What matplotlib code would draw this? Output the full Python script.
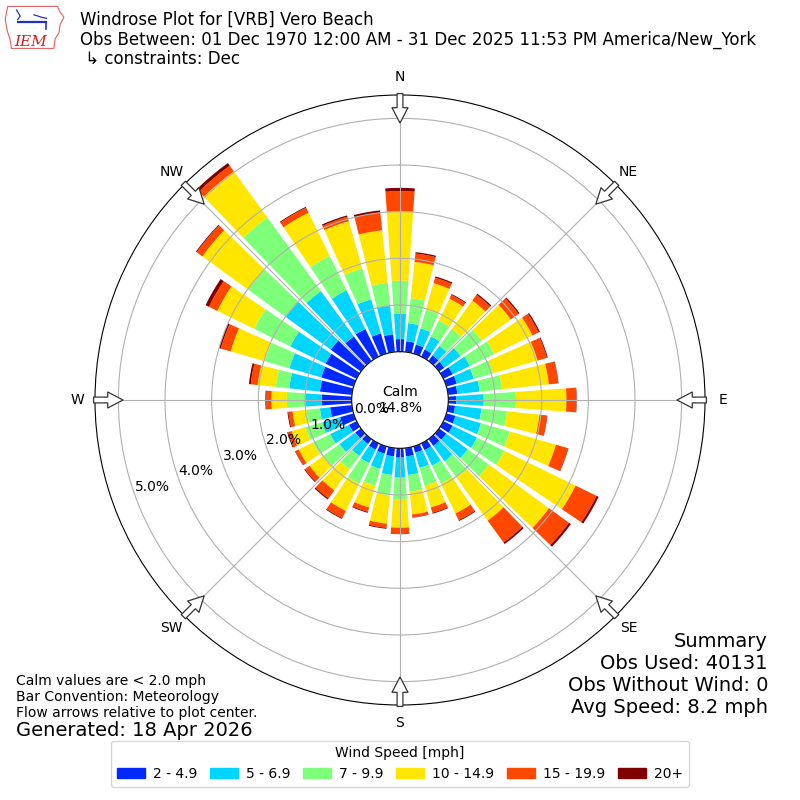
import numpy as np
import matplotlib
matplotlib.use("Agg")
import matplotlib.pyplot as plt
from matplotlib.patches import Rectangle, Polygon

# wind direction (deg) and percent frequency per speed class
directions = np.arange(0, 360, 10)
speed_labels = ["2 - 4.9", "5 - 6.9", "7 - 9.9", "10 - 14.9", "15 - 19.9", "20+"]

spd_2_5 = [0.27, 0.23, 0.20, 0.17, 0.15, 0.14, 0.22, 0.23, 0.20, 0.17, 0.15, 0.20,
           0.22, 0.19, 0.18, 0.16, 0.14, 0.18, 0.20, 0.18, 0.16, 0.15, 0.13, 0.15,
           0.18, 0.30, 0.47, 0.64, 0.69, 0.72, 0.74, 0.80, 0.65, 0.66, 0.45, 0.38]
spd_5_7 = [0.54, 0.39, 0.36, 0.31, 0.25, 0.43, 0.41, 0.38, 0.48, 0.59, 0.57, 0.57,
           0.58, 0.57, 0.41, 0.37, 0.34, 0.40, 0.43, 0.40, 0.34, 0.32, 0.32, 0.42,
           0.45, 0.40, 0.22, 0.36, 0.66, 0.71, 0.84, 1.19, 1.20, 0.92, 0.76, 0.62]
spd_7_10 = [0.71, 0.54, 0.42, 0.38, 0.45, 0.56, 0.58, 0.43, 0.48, 0.69, 0.55, 0.64,
            0.65, 0.56, 0.43, 0.43, 0.40, 0.36, 0.46, 0.44, 0.38, 0.49, 0.35, 0.42,
            0.41, 0.37, 0.29, 0.39, 0.29, 0.55, 0.86, 1.00, 1.95, 0.82, 0.69, 0.49]
spd_10_15 = [1.49, 0.78, 0.59, 0.52, 0.75, 0.77, 0.91, 0.99, 1.01, 1.08, 0.70, 1.03,
             1.70, 1.59, 1.14, 0.71, 0.48, 0.49, 0.61, 0.61, 0.48, 0.65, 0.56, 0.37,
             0.34, 0.31, 0.30, 0.33, 0.39, 0.76, 0.88, 1.21, 1.22, 1.03, 1.05, 1.13]
spd_15_20 = [0.43, 0.18, 0.12, 0.09, 0.15, 0.20, 0.15, 0.21, 0.20, 0.21, 0.16, 0.27,
             0.50, 0.53, 0.58, 0.16, 0.12, 0.06, 0.13, 0.09, 0.10, 0.17, 0.21, 0.12,
             0.08, 0.08, 0.09, 0.11, 0.15, 0.22, 0.20, 0.15, 0.15, 0.12, 0.10, 0.38]
spd_20p = [0.07, 0.03, 0.03, 0.02, 0.03, 0.03, 0.03, 0.02, 0.01, 0.01, 0.01, 0.01,
           0.05, 0.05, 0.04, 0.02, 0.02, 0.01, 0.01, 0.02, 0.02, 0.02, 0.03, 0.02,
           0.01, 0.02, 0.02, 0.02, 0.04, 0.04, 0.08, 0.02, 0.07, 0.02, 0.03, 0.05]
series = [spd_2_5, spd_5_7, spd_7_10, spd_10_15, spd_15_20, spd_20p]

calm_pct = 14.8
rticks = [0, 1, 2, 3, 4, 5]
compass = ["N", "NE", "E", "SE", "S", "SW", "W", "NW"]

fig = plt.figure(figsize=(8, 8), dpi=100)
ax = fig.add_axes([0.11875, 0.11875, 0.7625, 0.7625], projection="polar")
ax.set_theta_zero_location("N")
ax.set_theta_direction(-1)

colors = plt.get_cmap("jet")(np.linspace(0, 1, 7)[1:])
theta = np.deg2rad(directions)
base = np.zeros(len(directions))
for vals, c in zip(series, colors):
    ax.bar(theta, vals, width=np.deg2rad(10) * 0.8, bottom=base,
           color=c, edgecolor="none")
    base = base + np.array(vals)

ax.set_rorigin(-1.035)
ax.set_rlim(0, 5.5)
ax.set_rticks(rticks)
ax.set_yticklabels([f"{t:.1f}%" for t in rticks], fontsize=10)
ax.set_rlabel_position(250.5)
ax.set_thetagrids(np.arange(0, 360, 45), labels=compass, fontsize=10)
ax.tick_params(axis="x", pad=2.5)
ax.grid(color="#b0b0b0", lw=0.8)

# flow arrows at the edge
for d in np.arange(0, 360, 45):
    ax.annotate("", xy=(np.deg2rad(d), 4.9), xytext=(np.deg2rad(d), 5.53),
                arrowprops=dict(arrowstyle="simple,head_length=1.1,head_width=1.15,tail_width=0.42",
                                fc="white", ec="#333333", lw=0.9, mutation_scale=10,
                                shrinkA=0, shrinkB=0),
                annotation_clip=False, zorder=5)

ax.text(0.5, 0.5, f"Calm\n{calm_pct}%", transform=ax.transAxes,
        ha="center", va="center", fontsize=10, zorder=6)

fig.text(0.1, 0.986, "Windrose Plot for [VRB] Vero Beach\n"
         "Obs Between: 01 Dec 1970 12:00 AM - 31 Dec 2025 11:53 PM America/New_York\n"
         " \u21b3 constraints: Dec", va="top", fontsize=12, linespacing=1.1)

fig.text(0.96, 0.21, "Summary\nObs Used: 40131\nObs Without Wind: 0\nAvg Speed: 8.2 mph",
         ha="right", va="top", fontsize=14, linespacing=1.2)

fig.text(0.02, 0.1575, "Calm values are < 2.0 mph\nBar Convention: Meteorology\n"
         "Flow arrows relative to plot center.", va="top", fontsize=10)
fig.text(0.02, 0.0875, "Generated: 18 Apr 2026", va="center", fontsize=14)

handles = [Rectangle((0, 0), 1, 1, color=c) for c in colors]
fig.legend(handles, speed_labels, loc="lower center", bbox_to_anchor=(0.5, 0.008),
           ncol=6, title="Wind Speed [mph]", fontsize=10, title_fontsize=10,
           columnspacing=0.9, handletextpad=0.6)

# IEM logo (rough)
lax = fig.add_axes([0.005, 0.935, 0.078, 0.06])
lax.set_xlim(0, 10)
lax.set_ylim(0, 8)
lax.axis("off")
lax.add_patch(Polygon([(0.6, 7.6), (8.6, 7.6), (8.9, 6.8), (9.6, 5.8), (9.0, 4.6),
                       (8.8, 3.2), (8.2, 2.2), (8.0, 0.6), (1.2, 0.6), (1.0, 2.0),
                       (0.5, 3.6), (0.2, 5.4), (0.4, 6.6)],
                      closed=True, fill=False, ec="#e06060", lw=0.8))
lax.plot([2.2, 6.8], [5.0, 5.0], color="#2030c0", lw=1.6)
lax.plot([6.8, 6.8], [5.0, 3.8], color="#2030c0", lw=1.2)
lax.plot([2.0, 2.6, 2.2], [7.0, 6.0, 5.4], color="#2030c0", lw=0.9)
lax.plot([4.8, 6.0, 6.8], [6.2, 5.8, 5.6], color="#2030c0", lw=0.9)
lax.text(4.2, 1.6, "IEM", color="#d02020", fontsize=11, style="italic",
         family="DejaVu Serif", ha="center", va="center")

fig.savefig("out.png", dpi=100)
